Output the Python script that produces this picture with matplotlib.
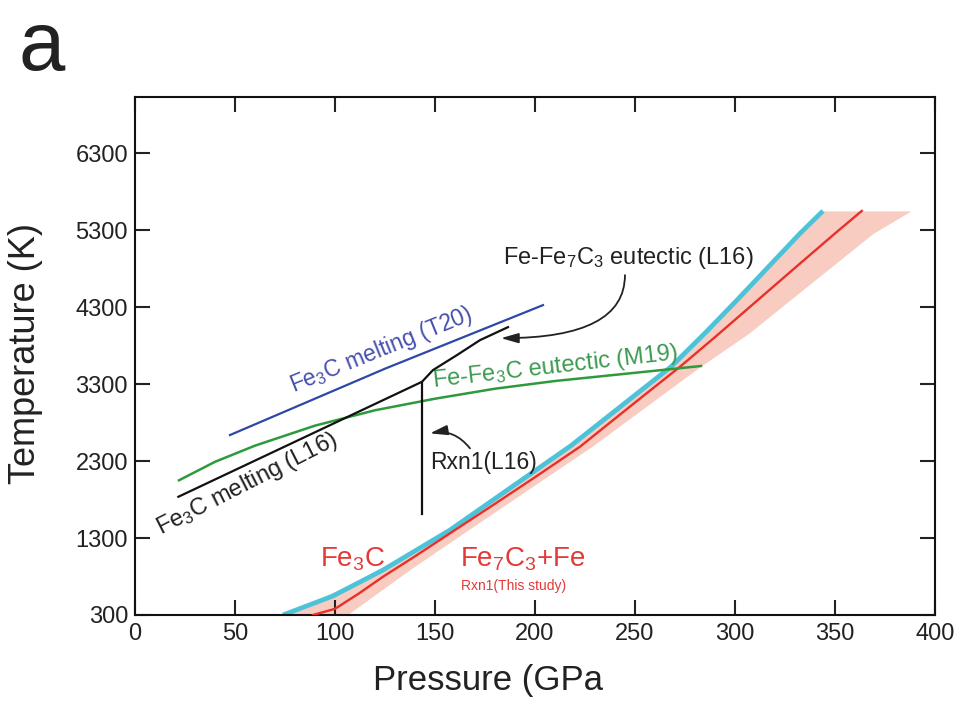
import matplotlib
matplotlib.use("Agg")
import matplotlib.pyplot as plt

plt.rcParams['font.family'] = ['Liberation Sans', 'DejaVu Sans']
plt.rcParams['mathtext.fontset'] = 'custom'
plt.rcParams['mathtext.rm'] = 'Liberation Sans'
plt.rcParams['mathtext.it'] = 'Liberation Sans'
plt.rcParams['mathtext.bf'] = 'Liberation Sans'

# ---- data (pressure in GPa, temperature in K) ----
blue_P = [47.5, 125, 204]
blue_T = [2638, 3500, 4326]

black_P = [21.7, 143.5, 149, 161, 172.5, 186.5]
black_T = [1836, 3330, 3482, 3677, 3871, 4040]

rxn_L16_P = [143.5, 143.5]
rxn_L16_T = [1612, 3330]

green_P = [22, 40, 60, 90, 120, 150, 180, 210, 240, 270, 283]
green_T = [2050, 2290, 2500, 2760, 2960, 3110, 3240, 3340, 3420, 3500, 3535]

red_P = [89, 100, 112, 124, 140, 157.5, 180, 200, 222.5, 250, 272.5, 290, 310, 330, 350, 363.4]
red_T = [300, 380, 580, 797, 1062, 1361, 1745, 2090, 2486, 3060, 3525, 3910, 4360, 4810, 5257, 5550]

cyan_P = [74, 99, 124, 157.5, 218, 268, 285, 301, 332.5, 344]
cyan_T = [300, 547, 884, 1404, 2500, 3525, 3962, 4391, 5257, 5550]

band_T = [300, 900, 1500, 2500, 3525, 3962, 4391, 5257, 5550]
band_lo = [74, 125, 162.5, 218, 268, 285, 301, 332.5, 344]
band_hi = [106, 138, 172, 229, 282.5, 307, 327.5, 369, 388]

x_ticks = [0, 50, 100, 150, 200, 250, 300, 350, 400]
y_ticks = [300, 1300, 2300, 3300, 4300, 5300, 6300]

TXT = '#222222'

fig = plt.figure(figsize=(9.56, 7.03), dpi=100)
ax = fig.add_axes([0.1412, 0.1252, 0.8368, 0.7368])

# uncertainty band and phase boundaries
ax.fill_betweenx(band_T, band_lo, band_hi, color='#f7c3b6', alpha=0.85, lw=0, zorder=1)
ax.plot(cyan_P, cyan_T, color='#4cc3d8', lw=3.4, solid_capstyle='butt',
        solid_joinstyle='round', zorder=2)
ax.plot(red_P, red_T, color='#e8302a', lw=1.7, solid_joinstyle='round', zorder=3)

ax.plot(blue_P, blue_T, color='#2f48a6', lw=1.6, zorder=3)
ax.plot(green_P, green_T, color='#2f9a3c', lw=1.8, solid_joinstyle='round', zorder=3)
ax.plot(black_P, black_T, color='#111111', lw=1.6, solid_joinstyle='round', zorder=4)
ax.plot(rxn_L16_P, rxn_L16_T, color='#111111', lw=1.6, zorder=4)

# labels on curves
ax.text(123, 3741, 'Fe$_3$C melting (T20)', color='#4650ad', fontsize=16.5,
        rotation=22, rotation_mode='anchor', ha='center', va='center')
ax.text(56, 2001, 'Fe$_3$C melting (L16)', color=TXT, fontsize=17,
        rotation=27, rotation_mode='anchor', ha='center', va='center')
ax.text(210, 3521, 'Fe-Fe$_3$C eutectic (M19)', color='#3c9a50', fontsize=17,
        rotation=6.5, rotation_mode='anchor', ha='center', va='center')
ax.text(184, 4936, 'Fe-Fe$_7$C$_3$ eutectic (L16)', color=TXT, fontsize=17,
        ha='left', va='center')
ax.text(147.5, 2287, 'Rxn1(L16)', color=TXT, fontsize=16.5, ha='left', va='center')

ax.text(92.5, 930, 'Fe$_3$C', color='#e23a37', fontsize=20, ha='left', va='baseline')
ax.text(162.5, 930, 'Fe$_7$C$_3$+Fe', color='#e23a37', fontsize=20, ha='left', va='baseline')
ax.text(163, 625, 'Rxn1(This study)', color='#e23a37', fontsize=10, ha='left', va='baseline')

# arrows
ax.annotate('', xy=(183, 3897), xytext=(245, 4716),
            arrowprops=dict(arrowstyle='-|>,head_length=0.7,head_width=0.2',
                            mutation_scale=15, color=TXT, lw=1.3,
                            shrinkA=0, shrinkB=0,
                            connectionstyle='angle3,angleA=90,angleB=0'))
ax.annotate('', xy=(147.5, 2660), xytext=(167.5, 2465),
            arrowprops=dict(arrowstyle='-|>,head_length=0.7,head_width=0.2',
                            mutation_scale=15, color=TXT, lw=1.3,
                            shrinkA=0, shrinkB=0,
                            connectionstyle='arc3,rad=0.3'))

# axes
ax.set_xlim(0, 400)
ax.set_ylim(300, 7030)
ax.set_xticks(x_ticks)
ax.set_yticks(y_ticks)
ax.set_xticklabels([str(v) for v in x_ticks])
ax.set_yticklabels([str(v) for v in y_ticks])
ax.tick_params(direction='in', length=11, width=1.5, top=True, right=True,
               labelsize=17, colors=TXT, pad=6)
ax.tick_params(axis='y', pad=5)
for s in ax.spines.values():
    s.set_linewidth(1.5)
    s.set_color('#111111')

fig.text(488 / 956, 1 - 690 / 703, 'Pressure (GPa', fontsize=25, color=TXT,
         ha='center', va='baseline')
fig.text(26 / 956, 1 - 353 / 703, 'Temperature (K)', fontsize=26, color=TXT,
         rotation=90, ha='center', va='center')
fig.text(18 / 956, 1 - 70 / 703, 'a', fontsize=60, color=TXT,
         ha='left', va='baseline')

fig.savefig('out.png', dpi=100)
